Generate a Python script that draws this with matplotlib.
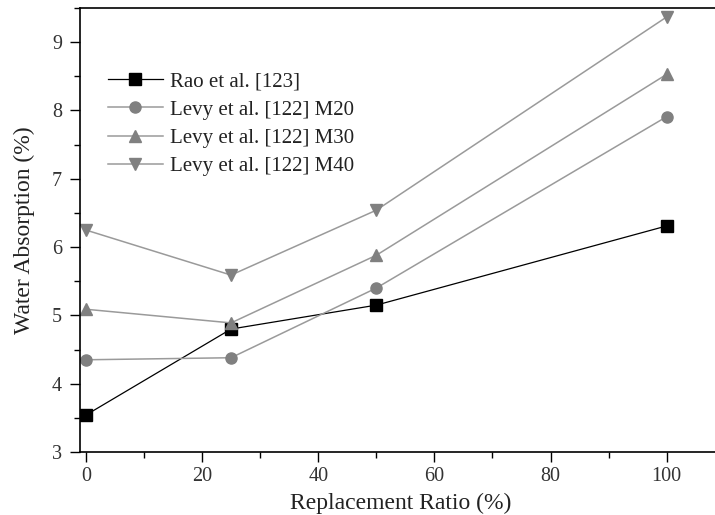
import matplotlib
matplotlib.use("Agg")
import matplotlib.pyplot as plt
from matplotlib.ticker import MultipleLocator

x = [0, 25, 50, 100]
rao = [3.54, 4.80, 5.15, 6.31]
m20 = [4.35, 4.38, 5.40, 7.91]
m30 = [5.09, 4.89, 5.88, 8.53]
m40 = [6.25, 5.59, 6.54, 9.37]
labels = ["Rao et al. [123]", "Levy et al. [122] M20", "Levy et al. [122] M30", "Levy et al. [122] M40"]

plt.rcParams['font.family'] = ['Liberation Serif', 'DejaVu Serif']

fig = plt.figure(figsize=(7.15, 5.15), dpi=100)
ax = fig.add_axes([80/715, 63/515, 1 - 80/715 + 0.01, (452-8)/515])

ax.plot(x, rao, color='black', lw=0.9, marker='s', ms=8, mfc='black', mec='black', label=labels[0])
g = '#808080'
lc = '#9a9a9a'
ax.plot(x, m20, color=lc, lw=1.1, marker='o', ms=8, mfc=g, mec=g, label=labels[1])
ax.plot(x, m30, color=lc, lw=1.1, marker='^', ms=9, mfc=g, mec=g, label=labels[2])
ax.plot(x, m40, color=lc, lw=1.1, marker='v', ms=9, mfc=g, mec=g, label=labels[3])

ax.set_xlim(-1, 108.3 + 0.01*715/5.81)
ax.set_ylim(3, 9.5)
ax.xaxis.set_major_locator(MultipleLocator(20))
ax.xaxis.set_minor_locator(MultipleLocator(10))
ax.yaxis.set_major_locator(MultipleLocator(1))
ax.yaxis.set_minor_locator(MultipleLocator(0.5))
ax.tick_params(which='major', direction='out', length=7, width=1, labelsize=14.5, colors='black',
               labelcolor='#333333')
ax.tick_params(axis='y', which='major', pad=6)
ax.tick_params(which='minor', direction='out', length=4, width=1)
ax.spines['right'].set_visible(False)
for s in ['left', 'bottom', 'top']:
    ax.spines[s].set_linewidth(1.2)

ax.set_xlabel("Replacement Ratio (%)", fontsize=17, color='#222222', labelpad=5)
ax.set_ylabel("Water Absorption (%)", fontsize=17, color='#222222', labelpad=12)

leg = ax.legend(loc='upper left', bbox_to_anchor=(0.03, 0.875), frameon=False, fontsize=15,
                handlelength=2.65, labelspacing=0.42, handletextpad=0.35, borderaxespad=0)
for t in leg.get_texts():
    t.set_color('#222222')

fig.savefig("out.png", dpi=100)
